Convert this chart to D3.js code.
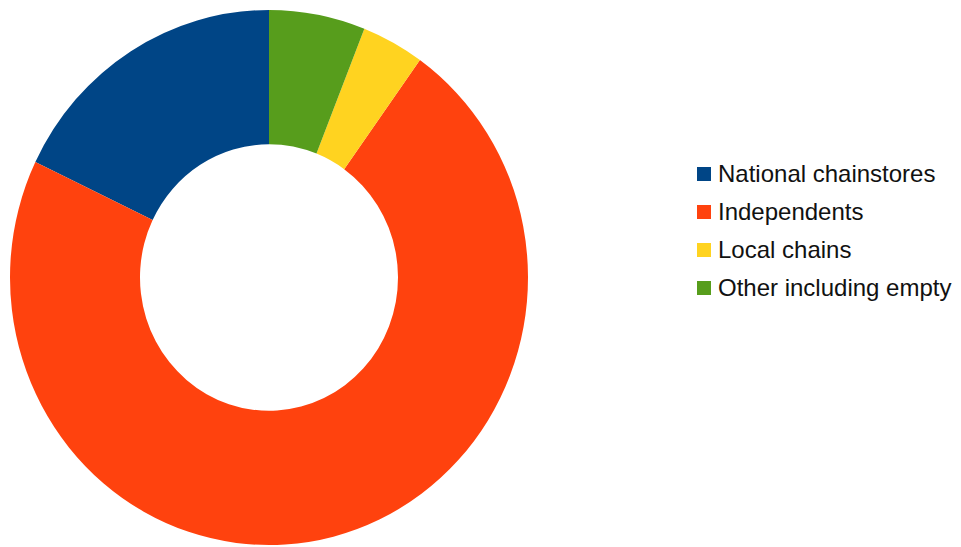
<!DOCTYPE html>
<html>
<head>
<meta charset="utf-8">
<script src="https://cdn.jsdelivr.net/npm/d3@7"></script>
<style>
  html, body { margin: 0; padding: 0; background: #ffffff; }
  svg { display: block; }
</style>
</head>
<body>
<div id="chart"></div>
<script>
// Shop types and their share of units (%)
const categories = ["National chainstores", "Independents", "Local chains", "Other including empty"];
const shares = [17.9, 72.2, 3.9, 6.0];
const colors = ["#004586", "#ff420e", "#ffd320", "#579d1c"];

const width = 961, height = 547;
const cx = 269, cy = 277.5;
const outerR = 259, innerR = 129;
const yStretch = 1.033;

const svg = d3.select("#chart").append("svg")
  .attr("width", width)
  .attr("height", height);

const color = d3.scaleOrdinal().domain(categories).range(colors);

// Slices run counter-clockwise from twelve o'clock
const pie = d3.pie()
  .sort(null)
  .value(d => d.value)
  .startAngle(0)
  .endAngle(-2 * Math.PI);

const data = categories.map((c, i) => ({ name: c, value: shares[i] }));

const arc = d3.arc().innerRadius(innerR).outerRadius(outerR);

const ring = svg.append("g")
  .attr("transform", `translate(${cx},${cy}) scale(1,${yStretch})`);

ring.selectAll("path")
  .data(pie(data))
  .join("path")
  .attr("d", arc)
  .attr("fill", d => color(d.data.name));

// Legend
const legendX = 697, legendY0 = 182, rowGap = 38, box = 14;
const legend = svg.append("g");
const rows = legend.selectAll("g")
  .data(categories)
  .join("g")
  .attr("transform", (d, i) => `translate(${legendX},${legendY0 + i * rowGap})`);

rows.append("rect")
  .attr("x", 0)
  .attr("y", -box - 1)
  .attr("width", box)
  .attr("height", box)
  .attr("fill", d => color(d));

rows.append("text")
  .attr("x", 21)
  .attr("y", 0)
  .attr("font-family", "'Liberation Sans', Arial, sans-serif")
  .attr("font-size", 24)
  .attr("fill", "#111111")
  .text(d => d);
</script>
</body>
</html>
